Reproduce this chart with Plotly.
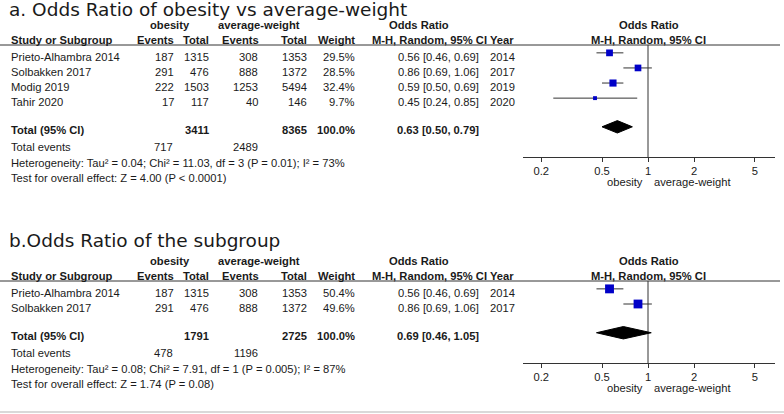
import math
import plotly.graph_objects as go

W, H = 784, 414

# ---------------- data: panel a ----------------
a_title = "a. Odds Ratio of obesity vs average-weight"
a_study = ["Prieto-Alhambra 2014", "Solbakken 2017", "Modig 2019", "Tahir 2020"]
a_ev1 = [187, 291, 222, 17]
a_tot1 = [1315, 476, 1503, 117]
a_ev2 = [308, 888, 1253, 40]
a_tot2 = [1353, 1372, 5494, 146]
a_weight = [29.5, 28.5, 32.4, 9.7]
a_or = [0.56, 0.86, 0.59, 0.45]
a_lo = [0.46, 0.69, 0.50, 0.24]
a_hi = [0.69, 1.06, 0.69, 0.85]
a_year = [2014, 2017, 2019, 2020]
a_total_n1 = 3411
a_total_n2 = 8365
a_total_ev1 = 717
a_total_ev2 = 2489
a_total_or = 0.63
a_total_lo = 0.50
a_total_hi = 0.79
a_het = "Heterogeneity: Tau² = 0.04; Chi² = 11.03, df = 3 (P = 0.01); I² = 73%"
a_test = "Test for overall effect: Z = 4.00 (P < 0.0001)"

# ---------------- data: panel b ----------------
b_title = "b.Odds Ratio of the subgroup"
b_study = ["Prieto-Alhambra 2014", "Solbakken 2017"]
b_ev1 = [187, 291]
b_tot1 = [1315, 476]
b_ev2 = [308, 888]
b_tot2 = [1353, 1372]
b_weight = [50.4, 49.6]
b_or = [0.56, 0.86]
b_lo = [0.46, 0.69]
b_hi = [0.69, 1.06]
b_year = [2014, 2017]
b_total_n1 = 1791
b_total_n2 = 2725
b_total_ev1 = 478
b_total_ev2 = 1196
b_total_or = 0.69
b_total_lo = 0.46
b_total_hi = 1.05
b_het = "Heterogeneity: Tau² = 0.08; Chi² = 7.91, df = 1 (P = 0.005); I² = 87%"
b_test = "Test for overall effect: Z = 1.74 (P = 0.08)"

# shared axis
tick_vals = [0.2, 0.5, 1, 2, 5]
tick_text = ["0.2", "0.5", "1", "2", "5"]
group1 = "obesity"
group2 = "average-weight"

# ---------------- styling ----------------
FONT = "Liberation Sans, Arial, sans-serif"
TFONT = "DejaVu Sans, Verdana, sans-serif"
TXT = "#1a1a1a"
LINE = "#333333"
BLUE = "#0000c8"
FS = 11.2

annotations = []
fig = go.Figure()


def px(x):
    return x / W


def py(y):
    return 1 - y / H


def ann(x, y, text, xanchor="left", bold=False, size=FS, family=FONT):
    annotations.append(dict(
        x=px(x), y=py(y), xref="paper", yref="paper",
        text=f"<b>{text}</b>" if bold else text,
        showarrow=False, xanchor=xanchor, yanchor="middle",
        borderpad=0, font=dict(family=family, size=size, color=TXT)))


def page_line(x0, x1, y0, y1, color=LINE, width=1):
    # decorative rule drawn on a full-page pixel overlay axis
    fig.add_trace(go.Scatter(x=[x0, x1], y=[y0, y1], mode="lines",
                             line=dict(color=color, width=width),
                             xaxis="x5", yaxis="y5", hoverinfo="skip",
                             showlegend=False, cliponaxis=False))


def fmt_ci(o, l, h):
    return f"{o:.2f} [{l:.2f}, {h:.2f}]"


XRANGE = [-0.818, 0.831]
X0, X1 = 523, 775


def panel(top, title_y, title, study, ev1, tot1, ev2, tot2, weight, orv, lo, hi, year,
          tn1, tn2, tev1, tev2, tor, tlo, thi, het, test,
          forest_top, forest_bot, xa, ya, xt):
    ann(8, title_y, title, size=18.5, family=TFONT)
    h1, h2, line_y = top + 25, top + 40, top + 45
    ann(170, h1, group1, "center", True)
    ann(259, h1, group2, "center", True)
    ann(419, h1, "Odds Ratio", "center", True)
    ann(649, h1, "Odds Ratio", "center", True)
    ann(10, h2, "Study or Subgroup", "left", True)
    ann(175, h2, "Events", "right", True)
    ann(210, h2, "Total", "right", True)
    ann(260, h2, "Events", "right", True)
    ann(308, h2, "Total", "right", True)
    ann(356, h2, "Weight", "right", True)
    ann(488, h2, "M-H, Random, 95% CI", "right", True)
    ann(489, h2, "Year", "left", True)
    ann(648, h2, "M-H, Random, 95% CI", "center", True)
    page_line(0, 780, line_y, line_y)
    n = len(study)
    for i in range(n):
        y = top + 57 + 15 * i
        ann(10, y, study[i])
        ann(175, y, str(ev1[i]), "right")
        ann(210, y, str(tot1[i]), "right")
        ann(259, y, str(ev2[i]), "right")
        ann(308, y, str(tot2[i]), "right")
        ann(356, y, f"{weight[i]:.1f}%", "right")
        ann(480, y, fmt_ci(orv[i], lo[i], hi[i]), "right")
        ann(489, y, str(year[i]), "left")
    ty = top + 57 + 15 * (n - 1) + 28
    ann(10, ty, "Total (95% CI)", "left", True)
    ann(210, ty, str(tn1), "right", True)
    ann(308, ty, str(tn2), "right", True)
    ann(356, ty, "100.0%", "right", True)
    ann(480, ty, fmt_ci(tor, tlo, thi), "right", True)
    ann(10, ty + 17, "Total events")
    ann(174, ty + 17, str(tev1), "right")
    ann(259, ty + 17, str(tev2), "right")
    ann(10, ty + 33, het)
    ann(10, ty + 48, test)

    # forest plot
    xs = "x" if xa == "xaxis" else "x" + xa[5:]
    ys = "y" if ya == "yaxis" else "y" + ya[5:]
    ybot, ytop = n + 2.9, -0.52
    # line of no effect (OR = 1)
    fig.add_trace(go.Scatter(x=[1, 1], y=[ytop, ybot], mode="lines",
                             line=dict(color=LINE, width=1), xaxis=xs, yaxis=ys,
                             hoverinfo="skip", showlegend=False, cliponaxis=False))
    for i in range(n):
        fig.add_trace(go.Scatter(x=[lo[i], hi[i]], y=[i, i], mode="lines",
                                 line=dict(color=LINE, width=1),
                                 xaxis=xs, yaxis=ys, hoverinfo="skip",
                                 showlegend=False))
    fig.add_trace(go.Scatter(
        x=orv, y=list(range(n)), mode="markers",
        marker=dict(symbol="square", color=BLUE, opacity=1,
                    size=[1.25 * math.sqrt(w) for w in weight],
                    line=dict(width=0)),
        xaxis=xs, yaxis=ys, showlegend=False))
    yt = n + 0.9
    hh = 0.41
    fig.add_trace(go.Scatter(
        x=[tlo, tor, thi, tor, tlo], y=[yt, yt - hh, yt, yt + hh, yt],
        mode="lines", fill="toself", fillcolor="black",
        line=dict(color="black", width=1),
        xaxis=xs, yaxis=ys, showlegend=False))
    dom_x = [px(X0), px(X1)]
    dom_y = [py(forest_bot), py(forest_top)]
    common = dict(type="log", range=XRANGE, domain=dom_x, showgrid=False,
                  zeroline=False, showline=True, linecolor=LINE, linewidth=1,
                  tickvals=tick_vals, ticktext=tick_text, tickcolor=LINE,
                  tickwidth=1, ticklen=4, anchor=ys, fixedrange=True)
    fig.update_layout(**{
        xa: dict(common, ticks="outside",
                 tickfont=dict(family=FONT, size=FS, color=TXT)),
        xt: dict(common, ticks="inside", showticklabels=False,
                 overlaying=xs),
        ya: dict(domain=dom_y, range=[ybot, ytop], visible=False,
                 fixedrange=True),
    })
    ann(625, forest_bot + 25, group1, "center")
    ann(692, forest_bot + 25, group2, "center")


panel(0, 10, a_title, a_study, a_ev1, a_tot1, a_ev2, a_tot2, a_weight, a_or,
      a_lo, a_hi, a_year, a_total_n1, a_total_n2, a_total_ev1, a_total_ev2,
      a_total_or, a_total_lo, a_total_hi, a_het, a_test,
      45, 157, "xaxis", "yaxis", "xaxis3")
panel(236, 240, b_title, b_study, b_ev1, b_tot1, b_ev2, b_tot2, b_weight, b_or,
      b_lo, b_hi, b_year, b_total_n1, b_total_n2, b_total_ev1, b_total_ev2,
      b_total_or, b_total_lo, b_total_hi, b_het, b_test,
      281, 363, "xaxis2", "yaxis2", "xaxis4")

page_line(0, W, 412, 412, color="#d9d9d9", width=2)

fig.update_layout(
    xaxis5=dict(domain=[0, 1], range=[0, W], visible=False, fixedrange=True,
                anchor="y5"),
    yaxis5=dict(domain=[0, 1], range=[H, 0], visible=False, fixedrange=True,
                anchor="x5"),
)

fig.update_layout(width=W, height=H, autosize=False,
                  margin=dict(l=0, r=0, t=0, b=0),
                  paper_bgcolor="white", plot_bgcolor="rgba(0,0,0,0)",
                  annotations=annotations, showlegend=False,
                  hovermode=False)

fig.write_html("out.html",
               config={"displayModeBar": False, "staticPlot": True},
               post_script="document.body.style.margin='0';"
                           "document.body.style.padding='0';"
                           "document.body.style.overflow='hidden';")
